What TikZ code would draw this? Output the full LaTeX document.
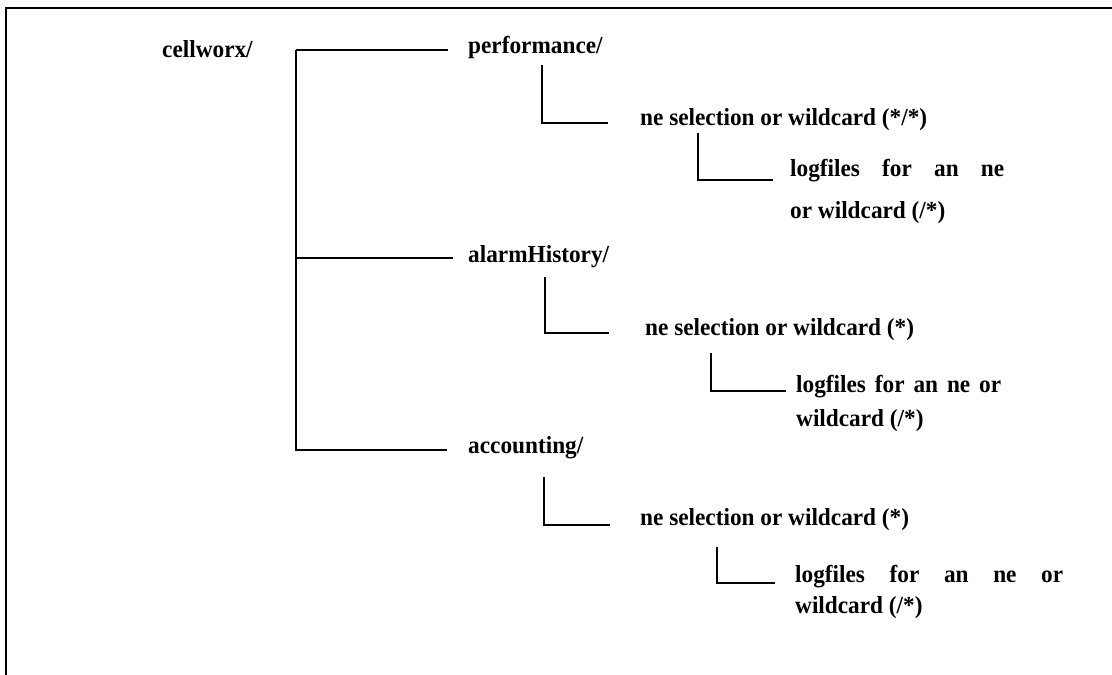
\documentclass[tikz,border=0pt]{standalone}
\usepackage{fontspec}
\setmainfont{Liberation Serif}[FakeStretch=0.95]
\usetikzlibrary{positioning}

\begin{document}
\begin{tikzpicture}[x=1pt, y=-1pt, font=\fontsize{24.5pt}{26pt}\selectfont\bfseries,
  lbl/.style={anchor=base west, inner sep=0pt},
  ln/.style={line width=1.5pt, black},
  frm/.style={line width=2pt, black}
]
  \useasboundingbox (0,0) rectangle (1112,675);
  \draw[frm] (6,675) -- (6,8) -- (1112,8);

  % directory names
  \node[lbl] (root) at (162,57) {cellworx/};
  \node[lbl] (perf) at (468,53) {performance/};
  \node[lbl] (alarm) at (468,262) {alarmHistory/};
  \node[lbl] (acc) at (468,453) {accounting/};

  \node[lbl] (perfsel) at (640,125) {ne selection or wildcard (*/*)};
  \node[lbl] (alarmsel) at (645,335) {ne selection or wildcard (*)};
  \node[lbl] (accsel) at (640,525) {ne selection or wildcard (*)};

  \node[lbl] (perflog) at (790,176) {\begin{tabular}[t]{@{}l@{}}\makebox[214pt][s]{logfiles for an ne}\\[16pt] or wildcard (/*)\end{tabular}};
  \node[lbl] (alarmlog) at (796,392) {\begin{tabular}[t]{@{}l@{}}\makebox[205pt][s]{logfiles for an ne or}\\[8pt] wildcard (/*)\end{tabular}};
  \node[lbl] (acclog) at (795,582) {\begin{tabular}[t]{@{}l@{}}\makebox[268pt][s]{logfiles for an ne or}\\[5pt] wildcard (/*)\end{tabular}};

  % elbow tops
  \coordinate (trunk) at (296,50);
  \coordinate (pdrop) at (542,65);
  \coordinate (pldrop) at (698,133);
  \coordinate (adrop) at (545,277);
  \coordinate (aldrop) at (711,353);
  \coordinate (cdrop) at (544,477);
  \coordinate (cldrop) at (717,547);

  \draw[ln] (trunk) -- ([xshift=-20pt,yshift=3pt]perf.base west);
  \draw[ln] (trunk) |- ([xshift=-21pt,yshift=3pt]acc.base west);
  \draw[ln] (trunk |- alarm.base) ++(0,-4) -- ([xshift=-15pt,yshift=4pt]alarm.base west);

  \draw[ln] (pdrop) |- ([xshift=-32pt,yshift=2pt]perfsel.base west);
  \draw[ln] (pldrop) |- ([xshift=-17pt,yshift=-4pt]perflog.base west);
  \draw[ln] (adrop) |- ([xshift=-36pt,yshift=2pt]alarmsel.base west);
  \draw[ln] (aldrop) |- ([xshift=-10pt,yshift=1pt]alarmlog.base west);
  \draw[ln] (cdrop) |- ([xshift=-30pt]accsel.base west);
  \draw[ln] (cldrop) |- ([xshift=-20pt,yshift=-1pt]acclog.base west);
\end{tikzpicture}
\end{document}
